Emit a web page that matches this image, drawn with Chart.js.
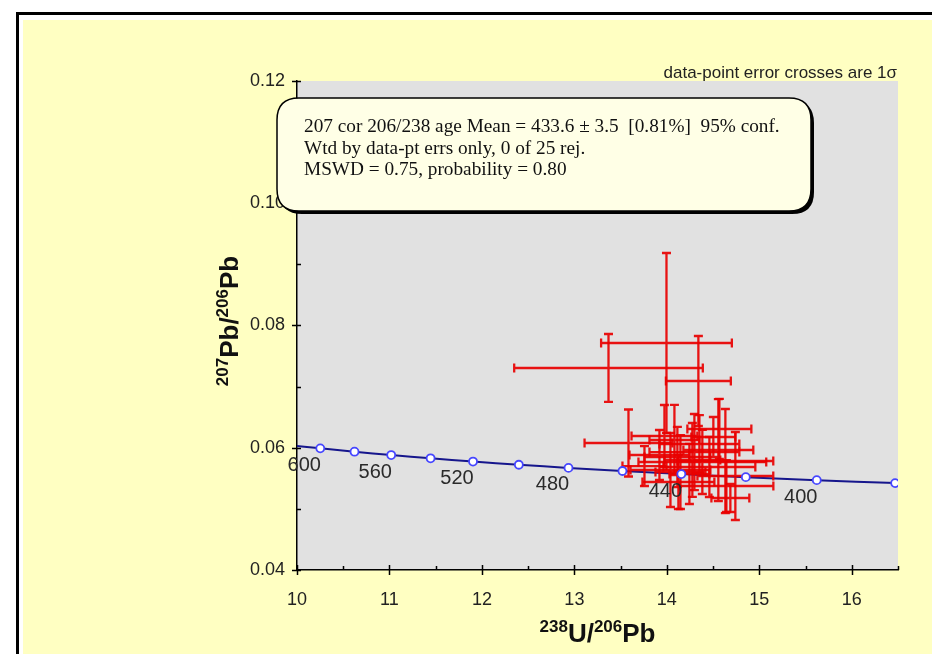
<!DOCTYPE html>
<html><head><meta charset="utf-8">
<script src="https://cdn.jsdelivr.net/npm/chart.js@4.4.1/dist/chart.umd.min.js"></script>
<style>html,body{margin:0;padding:0;background:#fff;overflow:hidden}#c{display:block}</style>
</head><body><canvas id="c" width="932" height="654"></canvas>
<script>
// Concordia curve (ages in Ma) with marker positions
const curveAges = [620, 600, 580, 560, 540, 520, 500, 480, 460, 440, 420, 400, 380, 360];
const curveX = [9.9055, 10.2518, 10.6220, 11.0187, 11.4448, 11.9036, 12.3993, 12.9363, 13.5199, 14.1567, 14.8540, 15.6212, 16.4690, 17.4114];
const curveY = [0.060458, 0.059901, 0.059351, 0.058808, 0.058272, 0.057742, 0.057219, 0.056703, 0.056193, 0.055689, 0.055191, 0.054701, 0.054215, 0.053736];
const markerAges = [600, 580, 560, 540, 520, 500, 480, 460, 440, 420, 400, 380];
const labelAges = [600, 560, 520, 480, 440, 400];

// Data points: 238U/206Pb, 207Pb/206Pb and 1-sigma errors
const spotX = [13.369, 13.996, 14.341, 13.585, 13.974, 14.568, 14.298, 14.114, 14.384, 14.460, 14.125, 14.633, 14.687, 14.741, 14.557, 14.039, 14.147, 14.276, 13.920, 13.758, 14.352, 14.644, 14.503, 14.244, 14.082];
const spotY = [0.07305, 0.07714, 0.07092, 0.06078, 0.06192, 0.06307, 0.05930, 0.05849, 0.05767, 0.05685, 0.05440, 0.05783, 0.05178, 0.05538, 0.05963, 0.05636, 0.05603, 0.05800, 0.05881, 0.05701, 0.06061, 0.05374, 0.06176, 0.05571, 0.06127];
const errX = [1.020, 0.707, 0.351, 0.475, 0.356, 0.346, 0.486, 0.356, 0.691, 0.497, 0.389, 0.518, 0.205, 0.410, 0.378, 0.432, 0.270, 0.302, 0.324, 0.238, 0.432, 0.508, 0.238, 0.216, 0.270];
const errY = [0.00556, 0.01472, 0.00736, 0.00548, 0.00507, 0.00491, 0.00622, 0.00491, 0.00524, 0.00491, 0.00442, 0.00851, 0.00229, 0.00720, 0.00834, 0.00605, 0.00605, 0.00605, 0.00409, 0.00327, 0.00474, 0.00425, 0.00327, 0.00491, 0.00573];

const xTicks = [10, 11, 12, 13, 14, 15, 16];
const yTicks = [0.04, 0.06, 0.08, 0.10, 0.12];
const xMinor = [10.5, 11.5, 12.5, 13.5, 14.5, 15.5, 16.5];
const yMinor = [0.05, 0.07, 0.09, 0.11];

const boxLines = [
  '207 cor 206/238 age Mean = 433.6 \u00b1 3.5  [0.81%]  95% conf.',
  'Wtd by data-pt errs only, 0 of 25 rej.',
  'MSWD = 0.75, probability = 0.80'
];
const noteText = 'data-point error crosses are 1\u03c3';

const SANS = '"Liberation Sans", Arial, Helvetica, sans-serif';
const SERIF = '"Liberation Serif", "Times New Roman", serif';

const curvePts = curveX.map((x, i) => ({x, y: curveY[i]}));
const markerPts = markerAges.map(a => { const i = curveAges.indexOf(a); return {x: curveX[i], y: curveY[i], age: a}; });
const spotPts = spotX.map((x, i) => ({x, y: spotY[i]}));

function rr(ctx, x, y, w, h, r) {
  ctx.beginPath();
  ctx.moveTo(x + r, y);
  ctx.lineTo(x + w - r, y); ctx.quadraticCurveTo(x + w, y, x + w, y + r);
  ctx.lineTo(x + w, y + h - r); ctx.quadraticCurveTo(x + w, y + h, x + w - r, y + h);
  ctx.lineTo(x + r, y + h); ctx.quadraticCurveTo(x, y + h, x, y + h - r);
  ctx.lineTo(x, y + r); ctx.quadraticCurveTo(x, y, x + r, y);
  ctx.closePath();
}

function drawSupText(ctx, parts, x, y, align) {
  const big = 'bold 26px ' + SANS, small = 'bold 17px ' + SANS;
  let w = 0;
  parts.forEach(p => { ctx.font = p.sup ? small : big; w += ctx.measureText(p.t).width; });
  let cx = align === 'center' ? x - w / 2 : x;
  ctx.textAlign = 'left'; ctx.textBaseline = 'alphabetic';
  parts.forEach(p => {
    ctx.font = p.sup ? small : big;
    ctx.fillText(p.t, cx, p.sup ? y - 10 : y);
    cx += ctx.measureText(p.t).width;
  });
}

const deco = {
  id: 'deco',
  beforeDraw(chart) {
    const ctx = chart.ctx, a = chart.chartArea;
    ctx.save();
    ctx.fillStyle = '#ffffff'; ctx.fillRect(0, 0, 932, 654);
    ctx.fillStyle = '#ffffc2'; ctx.fillRect(23, 20, 932, 654);
    ctx.strokeStyle = '#000'; ctx.lineWidth = 3;
    ctx.beginPath(); ctx.moveTo(17.5, 660); ctx.lineTo(17.5, 13.5); ctx.lineTo(940, 13.5); ctx.stroke();
    ctx.fillStyle = '#e1e1e1'; ctx.fillRect(a.left, a.top, a.right - a.left, a.bottom - a.top);
    ctx.restore();
  },
  afterDatasetDraw(chart, args) {
    if (args.index !== 1) return;
    const ctx = chart.ctx, xs = chart.scales.x, ys = chart.scales.y, a = chart.chartArea;
    ctx.save();
    ctx.beginPath(); ctx.rect(a.left, a.top, a.right - a.left, a.bottom - a.top); ctx.clip();
    ctx.strokeStyle = 'rgba(232,0,0,0.92)'; ctx.lineWidth = 2.3; ctx.lineCap = 'butt';
    for (let i = 0; i < spotX.length; i++) {
      const cx = xs.getPixelForValue(spotX[i]), cy = ys.getPixelForValue(spotY[i]);
      const x1 = xs.getPixelForValue(spotX[i] - errX[i]), x2 = xs.getPixelForValue(spotX[i] + errX[i]);
      const y1 = ys.getPixelForValue(spotY[i] + errY[i]), y2 = ys.getPixelForValue(spotY[i] - errY[i]);
      const c = 4.5;
      ctx.beginPath();
      ctx.moveTo(x1, cy); ctx.lineTo(x2, cy);
      ctx.moveTo(cx, y1); ctx.lineTo(cx, y2);
      ctx.moveTo(x1, cy - c); ctx.lineTo(x1, cy + c);
      ctx.moveTo(x2, cy - c); ctx.lineTo(x2, cy + c);
      ctx.moveTo(cx - c, y1); ctx.lineTo(cx + c, y1);
      ctx.moveTo(cx - c, y2); ctx.lineTo(cx + c, y2);
      ctx.stroke();
    }
    ctx.restore();
  },
  afterDraw(chart) {
    const ctx = chart.ctx, xs = chart.scales.x, ys = chart.scales.y, a = chart.chartArea;
    ctx.save();
    ctx.strokeStyle = '#000'; ctx.lineWidth = 1.5;
    ctx.beginPath();
    xTicks.forEach(v => { const p = Math.round(xs.getPixelForValue(v)) + 0.5; ctx.moveTo(p, a.bottom - 5); ctx.lineTo(p, a.bottom + 5); });
    xMinor.forEach(v => { const p = Math.round(xs.getPixelForValue(v)) + 0.5; ctx.moveTo(p, a.bottom - 4); ctx.lineTo(p, a.bottom); });
    yTicks.forEach(v => { const p = Math.round(ys.getPixelForValue(v)) + 0.5; ctx.moveTo(a.left - 5, p); ctx.lineTo(a.left + 4, p); });
    yMinor.forEach(v => { const p = Math.round(ys.getPixelForValue(v)) + 0.5; ctx.moveTo(a.left, p); ctx.lineTo(a.left + 4, p); });
    ctx.stroke();

    // age labels
    ctx.fillStyle = '#2a2a2a'; ctx.font = '20px ' + SANS; ctx.textAlign = 'center'; ctx.textBaseline = 'middle';
    labelAges.forEach(age => {
      const i = curveAges.indexOf(age);
      const px = xs.getPixelForValue(curveX[i]), py = ys.getPixelForValue(curveY[i]);
      ctx.fillText(String(age), px - 16, py + 17);
    });

    // axis titles
    ctx.fillStyle = '#111';
    drawSupText(ctx, [{t: '238', sup: true}, {t: 'U/', sup: false}, {t: '206', sup: true}, {t: 'Pb', sup: false}], (a.left + a.right) / 2, 642, 'center');
    ctx.save();
    ctx.translate(238, 321);
    ctx.rotate(-Math.PI / 2);
    drawSupText(ctx, [{t: '207', sup: true}, {t: 'Pb/', sup: false}, {t: '206', sup: true}, {t: 'Pb', sup: false}], 0, 0, 'center');
    ctx.restore();

    // note
    ctx.fillStyle = '#222'; ctx.font = '17px ' + SANS; ctx.textAlign = 'right'; ctx.textBaseline = 'alphabetic';
    ctx.fillText(noteText, 897, 78);

    // annotation box
    const bx = 277, by = 98, bw = 534, bh = 113;
    ctx.fillStyle = '#000';
    rr(ctx, bx + 3, by + 3, bw, bh, 22); ctx.fill();
    ctx.fillStyle = '#ffffe6';
    rr(ctx, bx, by, bw, bh, 22); ctx.fill();
    ctx.strokeStyle = '#000'; ctx.lineWidth = 1.5; ctx.stroke();
    ctx.fillStyle = '#111'; ctx.textAlign = 'left';
    ctx.font = '100px ' + SERIF;
    const fs = Math.min(20, 100 * 476 / ctx.measureText(boxLines[0]).width);
    ctx.font = fs.toFixed(2) + 'px ' + SERIF;
    boxLines.forEach((t, k) => ctx.fillText(t, 304, 132 + k * 21.5));
    ctx.restore();
  }
};

new Chart(document.getElementById('c'), {
  type: 'scatter',
  data: {
    datasets: [
      { label: 'markers', data: markerPts, showLine: false, pointRadius: 4, pointBorderWidth: 1.8,
        pointBorderColor: '#4646ff', pointBackgroundColor: '#ffffff', pointHoverRadius: 4 },
      { label: 'concordia', data: curvePts, showLine: true, borderColor: '#16168c', borderWidth: 2,
        pointRadius: 0, pointHoverRadius: 0, tension: 0.3 },
      { label: 'spots', data: spotPts, showLine: false, pointRadius: 0, pointHoverRadius: 0 }
    ]
  },
  options: {
    responsive: false, animation: false,
    layout: { padding: { left: 0, top: 81, right: 34, bottom: 0 } },
    plugins: { legend: { display: false }, tooltip: { enabled: false } },
    scales: {
      x: {
        type: 'linear', min: 10, max: 16.5,
        afterFit(s) { s.height = 84; },
        grid: { display: false, drawTicks: false },
        border: { display: true, color: '#000', width: 1.5 },
        ticks: { stepSize: 1, includeBounds: false, padding: 19, color: '#222',
          font: { family: SANS, size: 18 }, callback: v => xTicks.includes(v) ? String(v) : '' }
      },
      y: {
        type: 'linear', min: 0.04, max: 0.12,
        afterFit(s) { s.width = 297; },
        grid: { display: false, drawTicks: false },
        border: { display: true, color: '#000', width: 1.5 },
        ticks: { stepSize: 0.02, includeBounds: false, padding: 12, color: '#222',
          font: { family: SANS, size: 18 }, callback: v => Number(v).toFixed(2) }
      }
    }
  },
  plugins: [deco]
});
</script>
</body></html>
